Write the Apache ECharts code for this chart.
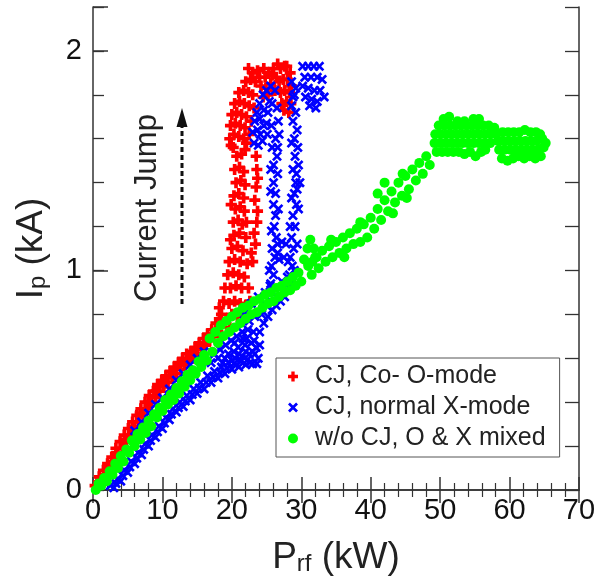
<!DOCTYPE html>
<html>
<head>
<meta charset="utf-8">
<script src="https://cdn.jsdelivr.net/npm/echarts@6/dist/echarts.min.js"></script>
<style>
  html, body { margin: 0; padding: 0; background: #fff; }
  #chart { width: 613px; height: 583px; }
</style>
</head>
<body>
<div id="chart"></div>
<script>
// axis ranges (kW, kA)
const xRange = [0, 70];
const yRange = [0, 2.2];

const seriesNames = ['CJ, Co- O-mode', 'CJ, normal X-mode', 'w/o CJ, O & X mixed'];

// CJ, Co- O-mode  (red +)
const redPoints = [
  // lower branch, upper row
  [0.3,0.02],[0.9,0.06],[1.5,0.09],[2.1,0.12],[2.7,0.15],[3.3,0.19],[3.9,0.22],[4.5,0.25],[5.1,0.28],[5.7,0.31],
  [6.3,0.34],[6.9,0.37],[7.5,0.40],[8.1,0.43],[8.7,0.45],[9.3,0.48],[9.9,0.50],[10.5,0.52],[11.1,0.54],[11.7,0.56],
  [12.3,0.58],[12.9,0.60],[13.5,0.62],[14.1,0.63],[14.7,0.65],[15.3,0.67],[15.9,0.69],[16.5,0.71],[17.1,0.73],[17.7,0.76],[18.2,0.78],
  // lower branch, middle row
  [1.1,0.05],[2.2,0.11],[3.4,0.17],[4.6,0.23],[5.7,0.29],[6.8,0.35],[8.0,0.40],[9.1,0.45],[10.3,0.49],[11.5,0.53],
  [12.6,0.57],[13.8,0.60],[15.0,0.64],[16.1,0.67],[17.3,0.71],
  // lower branch, lower row
  [0.6,0.01],[1.2,0.04],[1.8,0.07],[2.4,0.10],[3.0,0.13],[3.6,0.16],[4.2,0.19],[4.8,0.22],[5.4,0.25],[6.0,0.28],
  [6.6,0.31],[7.2,0.34],[7.8,0.37],[8.4,0.40],[9.0,0.42],[9.6,0.45],[10.2,0.47],[10.8,0.49],[11.4,0.51],[12.0,0.53],
  [12.6,0.55],[13.2,0.57],[13.8,0.59],[14.4,0.60],[15.0,0.62],[15.6,0.64],[16.2,0.66],[16.8,0.68],[17.4,0.70],[18.0,0.72],
  // jump foot
  [18.5,0.80],[19.2,0.78],[20.0,0.80],[20.8,0.79],[21.5,0.80],[18.8,0.86],[19.6,0.85],[20.4,0.86],[21.2,0.85],[22.0,0.84],
  [19.0,0.92],[19.8,0.92],[20.6,0.93],[21.4,0.92],[19.4,0.98],[20.2,0.99],[21.0,0.98],[21.8,0.97],[19.6,1.04],[20.4,1.05],
  [21.2,1.04],[22.2,1.03],[22.4,0.92],[18.3,0.76],[19.7,0.74],[22.6,0.86],[18.2,0.83],
  // rising column
  [20.0,1.10],[20.8,1.11],[21.6,1.09],[20.3,1.16],[21.1,1.17],[22.0,1.15],[20.2,1.22],[20.9,1.23],[21.5,1.21],[20.5,1.28],
  [21.2,1.29],[21.8,1.27],[20.3,1.34],[21.0,1.35],[21.7,1.33],[20.6,1.40],[21.3,1.41],[21.9,1.39],[20.4,1.46],[21.1,1.47],
  [21.7,1.45],[20.7,1.52],[21.4,1.53],[20.2,1.56],[21.9,1.55],[19.8,1.14],[19.9,1.30],[22.1,1.22],
  // sparse column
  [23.0,1.04],[22.8,1.08],[23.4,1.12],[23.2,1.17],[23.6,1.22],[23.7,1.27],[23.3,1.32],[23.5,1.38],[23.7,1.42],[23.6,1.46],[23.5,1.52],
  // upper left lobe
  [19.7,1.60],[20.3,1.62],[21.0,1.61],[21.7,1.60],[19.8,1.66],[20.5,1.67],[21.2,1.66],[21.9,1.65],[20.0,1.71],[20.7,1.72],
  [21.4,1.71],[22.1,1.70],[20.4,1.76],[21.1,1.77],[21.8,1.76],[22.5,1.75],[21.0,1.81],[21.7,1.82],[22.4,1.81],[23.0,1.80],
  [22.0,1.86],[22.7,1.87],[23.4,1.86],[23.0,1.90],[23.7,1.91],[22.5,1.62],[22.8,1.68],[23.2,1.74],[19.9,1.57],[22.1,1.58],
  [22.4,1.92],
  // top arc and right lobe
  [24.2,1.84],[24.9,1.83],[25.6,1.85],[24.5,1.79],[25.2,1.80],[24.0,1.88],[25.8,1.89],[26.2,1.82],[26.4,1.88],[26.6,1.94],
  [27.0,1.92],[27.6,1.93],[26.8,1.86],[27.4,1.87],[28.0,1.87],[27.0,1.81],[27.6,1.82],[28.3,1.81],[27.2,1.76],[27.9,1.77],
  [28.5,1.76],[27.5,1.73],[24.8,1.88],[28.4,1.90],[24.6,1.92],[25.3,1.90],[26.0,1.92],[27.9,1.93],[28.6,1.84],[28.2,1.72]
];

// CJ, normal X-mode  (blue x)
const bluePoints = [
  // lower branch, bottom row
  [3.0,0.01],[4.0,0.04],[5.0,0.08],[6.0,0.12],[7.0,0.16],[8.0,0.20],[9.0,0.24],[10.0,0.28],[11.0,0.32],[12.0,0.355],
  [13.0,0.38],[14.0,0.41],[15.0,0.44],[16.0,0.46],[17.0,0.49],[18.0,0.51],[19.0,0.53],[20.0,0.55],[21.0,0.56],[22.0,0.57],
  [23.0,0.575],[23.6,0.575],
  // lower branch, middle row
  [3.3,0.03],[4.3,0.065],[5.3,0.105],[6.3,0.145],[7.3,0.185],[8.3,0.225],[9.3,0.265],[10.3,0.305],[11.3,0.345],[12.3,0.375],
  [13.3,0.405],[14.3,0.435],[15.3,0.465],[16.3,0.49],[17.3,0.515],[18.3,0.535],[19.3,0.555],[20.3,0.575],[21.3,0.585],[22.3,0.595],
  // lower branch, second row
  [2.5,0.02],[3.5,0.05],[4.5,0.09],[5.5,0.13],[6.5,0.17],[7.5,0.21],[8.5,0.25],[9.5,0.29],[10.5,0.33],[11.5,0.37],
  [12.5,0.40],[13.5,0.43],[14.5,0.46],[15.5,0.49],[16.5,0.52],[17.5,0.54],[18.5,0.56],[19.5,0.58],[20.5,0.60],[21.5,0.61],
  [22.5,0.62],[23.3,0.62],
  // lower branch, above green
  [6.0,0.27],[7.0,0.31],[8.0,0.35],[9.0,0.39],[10.0,0.42],[11.0,0.46],[12.0,0.50],[13.0,0.53],[14.0,0.57],[15.0,0.60],[16.0,0.63],
  // knee
  [17.5,0.62],[18.3,0.64],[19.1,0.66],[19.9,0.68],[20.7,0.70],[21.5,0.72],[22.3,0.73],[23.1,0.72],[18.7,0.58],[20.3,0.63],
  [21.9,0.66],[23.5,0.65],[23.8,0.60],[22.8,0.67],[19.5,0.62],[20.9,0.65],[22.1,0.69],[23.0,0.63],[21.3,0.59],[22.6,0.58],
  [17.0,0.58],[18.0,0.60],[19.0,0.60],[20.0,0.59],[21.0,0.62],[22.0,0.63],[23.2,0.68],[24.0,0.66],[21.6,0.69],[20.4,0.67],
  [24.0,0.72],[24.6,0.76],[25.2,0.79],[25.8,0.82],[26.4,0.84],[27.0,0.86],[27.6,0.88],[24.3,0.80],[25.0,0.84],[25.6,0.86],
  [22.5,0.77],[23.3,0.79],[21.8,0.80],[22.8,0.85],[23.8,0.88],[24.8,0.90],[25.5,0.93],[27.2,0.95],[28.0,0.97],
  // left column
  [25.9,0.90],[25.6,0.94],[26.0,0.98],[25.7,1.02],[26.2,1.06],[25.8,1.10],[26.4,1.15],[26.1,1.20],[26.3,1.25],[26.0,1.30],
  [26.3,1.35],[26.0,1.40],[26.6,1.44],[26.0,1.48],[26.5,1.52],[25.8,1.56],[26.3,1.60],
  [25.4,1.00],[26.6,1.08],[25.7,1.18],[26.7,1.28],[25.6,1.36],[25.6,1.46],
  // right column
  [28.5,0.94],[28.3,0.98],[28.7,1.02],[28.4,1.06],[28.9,1.10],[28.6,1.15],[29.1,1.20],[28.8,1.25],[29.3,1.30],[29.0,1.35],
  [29.2,1.40],[29.4,1.37],[29.8,1.40],[29.3,1.44],[29.6,1.48],[29.1,1.52],[29.5,1.56],[29.0,1.60],[29.4,1.64],[28.8,1.68],
  [29.2,1.72],[28.6,1.75],[29.0,1.80],[29.0,1.00],[29.4,1.12],[28.4,1.20],[29.6,1.28],[28.6,1.33],[28.8,1.46],[28.6,1.58],
  // cross bar between columns
  [26.6,1.12],[27.2,1.13],[27.8,1.12],[26.8,1.05],[27.5,1.06],[28.1,1.04],
  // left lobe
  [23.2,1.58],[23.0,1.63],[23.3,1.68],[23.6,1.72],[24.0,1.76],[24.5,1.80],[25.0,1.82],[25.6,1.84],[26.2,1.82],[24.1,1.62],
  [24.6,1.66],[25.2,1.72],[25.8,1.76],[26.5,1.74],[23.8,1.57],[24.4,1.59],[25.1,1.62],[26.7,1.68],[26.8,1.62],[26.6,1.56],
  [24.0,1.69],[25.0,1.67],[25.7,1.66],[24.6,1.73],[25.4,1.77],[23.7,1.64],
  // top cluster
  [28.6,1.86],[29.2,1.83],[28.8,1.79],
  [30.2,1.93],[31.0,1.93],[31.8,1.93],[32.6,1.93],[30.5,1.88],[31.4,1.88],[32.3,1.88],[33.0,1.87],[30.2,1.84],[31.0,1.83],
  [31.9,1.82],[32.7,1.82],[30.6,1.79],[31.5,1.78],[32.3,1.77],[33.3,1.79],[31.2,1.75],[32.1,1.74]
];

// w/o CJ, O & X mixed  (green dots)
const greenPoints = [
  // lower branch, upper row
  [0.8,0.03],[1.6,0.055],[2.4,0.085],[3.2,0.12],[4.0,0.155],[4.8,0.185],[5.6,0.225],[6.4,0.255],[7.2,0.285],[8.0,0.315],
  [8.8,0.345],[9.6,0.375],[10.4,0.41],[11.2,0.435],[12.0,0.465],[12.8,0.495],[13.6,0.525],[14.4,0.545],[15.2,0.585],[16.0,0.615],
  [16.8,0.69],[17.6,0.72],[18.4,0.75],[19.2,0.77],[20.0,0.79],[20.8,0.81],[21.6,0.83],[22.4,0.84],[23.2,0.86],[24.0,0.87],
  [24.8,0.89],[25.6,0.90],[26.4,0.92],[27.2,0.93],[28.0,0.95],[28.8,0.97],[29.6,0.99],
  // lower branch, lower row
  [0.4,0.00],[1.2,0.02],[2.0,0.04],[2.8,0.07],[3.6,0.10],[4.4,0.13],[5.2,0.17],[6.0,0.20],[6.8,0.23],[7.6,0.26],
  [8.4,0.29],[9.2,0.33],[10.0,0.36],[10.8,0.39],[11.6,0.41],[12.4,0.44],[13.2,0.47],[14.0,0.50],[14.8,0.53],[15.6,0.56],
  [16.4,0.59],[17.2,0.63],[18.0,0.67],[18.8,0.70],[19.6,0.72],[20.4,0.74],[21.2,0.76],[22.0,0.78],[22.8,0.80],[23.6,0.81],
  [24.4,0.83],[25.2,0.85],[26.0,0.86],[26.8,0.88],[27.6,0.90],[28.4,0.91],[29.2,0.93],[30.0,0.95],
  // bump near 31 kW
  [30.4,1.05],[30.9,1.10],[31.3,1.14],[31.8,1.10],[32.2,1.06],[31.0,1.02],[31.6,1.04],
  // middle branch, upper row
  [31.0,1.03],[32.0,1.06],[33.0,1.09],[34.0,1.11],[35.0,1.13],[36.0,1.15],[37.0,1.17],[38.0,1.19],[39.0,1.21],[40.0,1.24],
  [41.0,1.28],[42.0,1.32],[43.0,1.36],[44.0,1.40],[45.0,1.43],[46.0,1.46],[47.0,1.49],[48.0,1.52],
  // middle branch, lower row
  [31.5,0.98],[32.5,1.01],[33.5,1.04],[34.5,1.06],[35.5,1.08],[36.5,1.10],[37.5,1.12],[38.5,1.13],[39.5,1.15],[40.5,1.19],
  [41.5,1.23],[42.5,1.27],[43.5,1.31],[44.5,1.34],[45.5,1.37],[46.5,1.41],[47.5,1.44],[48.5,1.48],
  // strands
  [34.3,1.14],[36.2,1.06],[38.5,1.22],[41.0,1.35],[42.0,1.40],[43.2,1.26],[44.6,1.44],[45.2,1.33],
  // plateau
  [49.5,1.54],[50.3,1.54],[51.1,1.54],[51.9,1.54],[52.7,1.54],[53.5,1.53],[54.3,1.54],[55.1,1.52],[55.9,1.54],[56.5,1.55],
  [49.2,1.58],[50.0,1.58],[50.8,1.58],[51.6,1.58],[52.4,1.58],[53.2,1.58],[54.0,1.58],[54.8,1.58],[55.6,1.58],[56.4,1.58],[57.2,1.58],
  [49.3,1.62],[50.1,1.62],[50.9,1.62],[51.7,1.62],[52.5,1.62],[53.3,1.62],[54.1,1.62],[54.9,1.62],[55.7,1.62],[56.5,1.62],[57.3,1.62],[58.1,1.62],
  [49.8,1.66],[50.6,1.66],[51.4,1.66],[52.2,1.66],[53.0,1.66],[53.8,1.66],[54.6,1.66],[55.4,1.66],[56.2,1.66],[57.0,1.66],[57.8,1.65],
  [50.5,1.69],[51.3,1.70],[52.5,1.68],[53.5,1.68],[54.8,1.69],[55.6,1.69],
  // right blob
  [58.9,1.51],[59.7,1.50],[60.5,1.51],[61.3,1.52],[62.1,1.51],[62.9,1.52],[63.7,1.51],[64.5,1.52],
  [58.5,1.55],[59.3,1.55],[60.1,1.55],[60.9,1.55],[61.7,1.55],[62.5,1.55],[63.3,1.55],[64.1,1.55],[64.9,1.56],[65.2,1.58],
  [58.3,1.59],[59.1,1.59],[59.9,1.59],[60.7,1.59],[61.5,1.59],[62.3,1.59],[63.1,1.59],[63.9,1.59],[64.7,1.60],
  [59.0,1.63],[59.8,1.63],[60.6,1.63],[61.4,1.63],[62.2,1.64],[63.0,1.63],[63.8,1.63],[64.4,1.62]
];

// marker shapes: a bold plus and a bold cross
const plusPath = 'path://M3,0H6V3H9V6H6V9H3V6H0V3H3Z';
const crossPath = 'path://M1.7,0L4.5,2.8L7.3,0L9,1.7L6.2,4.5L9,7.3L7.3,9L4.5,6.2L1.7,9L0,7.3L2.8,4.5L0,1.7Z';

const font = '"Liberation Sans", Arial, Helvetica, sans-serif';
const ink = '#222';

const chart = echarts.init(document.getElementById('chart'));

const option = {
  animation: false,
  backgroundColor: '#fff',
  textStyle: { fontFamily: font },
  grid: { left: 93, right: 34, top: 7, bottom: 93, containLabel: false },
  xAxis: [
    {
      type: 'value', position: 'bottom', min: xRange[0], max: xRange[1], interval: 10,
      name: '{a|P}{b|rf}{a| (kW)}', nameLocation: 'middle', nameGap: 42,
      nameTextStyle: {
        rich: {
          a: { fontSize: 37, lineHeight: 44, color: ink, fontFamily: font, verticalAlign: 'bottom' },
          b: { fontSize: 24, lineHeight: 28, color: ink, fontFamily: font, verticalAlign: 'bottom' }
        }
      },
      axisLine: { show: true, lineStyle: { color: '#333', width: 1.5 } },
      axisTick: { show: true, inside: true, length: 13, lineStyle: { color: '#333', width: 1.5 } },
      minorTick: { show: true, splitNumber: 5, length: 7, lineStyle: { color: '#333', width: 1.2 } },
      axisLabel: { fontSize: 29, color: '#111', fontFamily: font, margin: 6 },
      splitLine: { show: false }
    },
    {
      type: 'value', position: 'top', min: xRange[0], max: xRange[1], interval: 10,
      axisLine: { show: true, lineStyle: { color: '#333', width: 1.5 } },
      axisTick: { show: true, inside: true, length: 13, lineStyle: { color: '#333', width: 1.5 } },
      minorTick: { show: true, splitNumber: 5, length: 7, lineStyle: { color: '#333', width: 1.2 } },
      axisLabel: { show: false },
      splitLine: { show: false }
    }
  ],
  yAxis: [
    {
      type: 'value', position: 'left', min: yRange[0], max: yRange[1], interval: 1,
      name: '{a|I}{b|p}{a| (kA)}', nameLocation: 'middle', nameRotate: 90, nameGap: 43,
      nameTextStyle: {
        rich: {
          a: { fontSize: 37, lineHeight: 44, color: ink, fontFamily: font, verticalAlign: 'bottom' },
          b: { fontSize: 24, lineHeight: 28, color: ink, fontFamily: font, verticalAlign: 'bottom' }
        }
      },
      axisLine: { show: true, lineStyle: { color: '#333', width: 1.5 } },
      axisTick: { show: true, inside: true, length: 15, lineStyle: { color: '#333', width: 1.5 } },
      axisLabel: {
        fontSize: 29, color: '#111', fontFamily: font, margin: 11,
        formatter: v => (Number.isInteger(v) ? String(v) : '')
      },
      splitLine: { show: false }
    },
    {
      type: 'value', position: 'left', min: yRange[0], max: yRange[1], interval: 0.2,
      axisLine: { show: false },
      axisTick: { show: true, inside: true, length: 11, lineStyle: { color: '#333', width: 1.3 } },
      axisLabel: { show: false },
      splitLine: { show: false }
    },
    {
      type: 'value', position: 'right', min: yRange[0], max: yRange[1], interval: 0.2,
      axisLine: { show: true, lineStyle: { color: '#333', width: 1.5 } },
      axisTick: { show: true, inside: true, length: 14, lineStyle: { color: '#333', width: 1.3 } },
      axisLabel: { show: false },
      splitLine: { show: false }
    }
  ],
  legend: {
    orient: 'vertical', left: 276, top: 358,
    padding: [6, 14, 6, 12], itemGap: 6, itemWidth: 10, itemHeight: 10,
    borderColor: '#555', borderWidth: 1, backgroundColor: '#fff',
    textStyle: { fontSize: 25, color: ink, fontFamily: font, padding: [0, 0, 0, 12] },
    data: [
      { name: seriesNames[0], icon: plusPath },
      { name: seriesNames[1], icon: crossPath },
      { name: seriesNames[2], icon: 'circle' }
    ]
  },
  series: [
    {
      name: seriesNames[0], type: 'scatter', xAxisIndex: 0, yAxisIndex: 0,
      symbol: plusPath, symbolSize: 11, itemStyle: { color: '#ff0000', opacity: 1 },
      data: redPoints
    },
    {
      name: seriesNames[1], type: 'scatter', xAxisIndex: 0, yAxisIndex: 0,
      symbol: crossPath, symbolSize: 10, itemStyle: { color: '#0000ff', opacity: 1 },
      data: bluePoints
    },
    {
      name: seriesNames[2], type: 'scatter', xAxisIndex: 0, yAxisIndex: 0,
      symbol: 'circle', symbolSize: 10, itemStyle: { color: '#00ff00', opacity: 1 },
      data: greenPoints
    }
  ],
  graphic: [
    {
      type: 'text', x: 147, y: 208, rotation: Math.PI / 2,
      style: {
        text: 'Current Jump', fontSize: 31, fontFamily: font, fill: ink,
        align: 'center', verticalAlign: 'middle'
      }
    },
    {
      type: 'line', shape: { x1: 182, y1: 304, x2: 182, y2: 124 },
      style: { stroke: '#111', lineWidth: 3, lineDash: [5, 3] }
    },
    {
      type: 'polygon', shape: { points: [[182, 108], [176.5, 127], [187.5, 127]] },
      style: { fill: '#111' }
    }
  ]
};

chart.setOption(option);
</script>
</body>
</html>
